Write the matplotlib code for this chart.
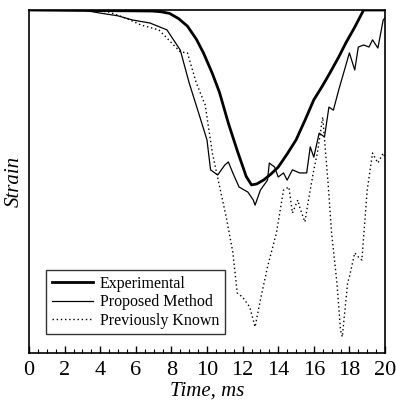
import numpy as np
import matplotlib.pyplot as plt

plt.rcParams['font.family'] = 'serif'
plt.rcParams['font.serif'] = ['Liberation Serif', 'DejaVu Serif']

# Experimental strain (arbitrary units, 100 = zero strain at top)
t_exp = [0, 6.9, 7.4, 7.9, 8.4, 8.9, 9.4, 9.8, 10.3, 10.7, 11.2, 11.7, 12.2,
         12.5, 12.8, 13.2, 13.6, 14.0, 14.5, 15.0, 15.5, 16.0, 16.5, 16.9,
         17.4, 17.8, 18.3, 18.8, 20.0]
s_exp = [100, 99.7, 99.5, 99.0, 97.5, 95.3, 91.5, 87.5, 81.5, 76.0, 67.0, 59.0, 51.5,
         49.0, 49.3, 50.5, 52.2, 54.2, 58.0, 62.1, 67.8, 73.8, 78.0, 81.6,
         86.3, 90.4, 95.0, 100, 100]

# Proposed method
t_prop = [0, 3.0, 4.0, 5.0, 5.8, 6.8, 7.75, 8.5, 9.0, 9.6, 10.0, 10.2, 10.6,
          11.0, 11.2, 11.45, 11.8, 12.3, 12.6, 12.7, 13.0, 13.4, 13.5, 13.8,
          14.0, 14.3, 14.5, 14.8, 15.2, 15.6, 15.8, 16.0, 16.3, 16.6, 16.85,
          17.1, 17.4, 18.0, 18.3, 18.5, 18.8, 19.1, 19.3, 19.6, 19.9, 20.0]
s_prop = [100, 100, 99.1, 98.3, 97.1, 96.2, 94.2, 88.3, 78.7, 68.8, 62.1, 53.4, 51.9,
          54.8, 55.7, 52.5, 48.4, 46.9, 44.6, 43.1, 47.5, 50.4, 55.4, 54.2,
          51.3, 52.5, 50.4, 53.4, 52.5, 52.5, 60.1, 57.1, 64.1, 63.0, 71.7,
          70.8, 76.7, 87.5, 82.5, 89.2, 89.8, 89.2, 91.3, 88.9, 97.1, 97.7]

# Previously known method
t_prev = [0, 3.5, 4.5, 5.5, 6.3, 7.3, 8.5, 8.9, 9.4, 9.9, 10.3, 10.7, 11.1,
          11.45, 11.7, 12.0, 12.4, 12.7, 13.0, 13.4, 13.9, 14.3, 14.6, 14.8,
          15.1, 15.2, 15.5, 15.7, 16.0, 16.2, 16.5, 16.8, 17.0, 17.3, 17.5,
          17.6, 17.9, 18.0, 18.3, 18.5, 18.7, 19.0, 19.3, 19.6, 19.9, 20.0]
s_prev = [100, 100, 99.4, 97.5, 95.6, 94.2, 87.8, 87.5, 78.7, 72.3, 58.3, 48.7, 39.1,
          29.4, 17.5, 16.3, 13.4, 7.6, 15.5, 25.1, 35.0, 47.5, 48.4, 40.8,
          44.6, 42.6, 38.2, 44.6, 53.4, 58.3, 68.8, 49.6, 35.0, 20.4, 6.7,
          4.7, 20.4, 22.2, 29.2, 28.0, 27.1, 47.5, 58.3, 55.4, 58.3, 57.1]

fig = plt.figure(figsize=(3.96, 4.05), dpi=100)
ax = fig.add_axes([29 / 396, 52 / 405, 356 / 396, 343 / 405])

ax.plot(t_exp, s_exp, color='black', lw=2.0, label='Experimental')
ax.plot(t_prop, s_prop, color='black', lw=0.9, label='Proposed Method')
ax.plot(t_prev, s_prev, color='black', lw=1.0, ls=(0, (1, 2)), label='Previously Known')

ax.set_xlim(0, 20)
ax.set_ylim(0, 100)
ax.set_xticks(np.arange(0, 21, 2))
ax.set_xticks(np.arange(0, 20.1, 0.5), minor=True)
ax.set_yticks([])
ax.tick_params(axis='x', which='major', direction='in', length=5, width=1,
               labelsize=16, pad=6)
ax.tick_params(axis='x', which='minor', direction='in', length=3, width=0.8)
for sp in ax.spines.values():
    sp.set_linewidth(1.2)

ax.set_xlabel('Time, ms', fontsize=15, style='italic', labelpad=1)
ax.set_ylabel('Strain', fontsize=15, style='italic', labelpad=4)

leg = ax.legend(loc='lower left', bbox_to_anchor=(0.048, 0.055), borderaxespad=0,
                fontsize=11.5, frameon=True, fancybox=False, handlelength=2.6,
                labelspacing=0.15, borderpad=0.35, handletextpad=0.4)
leg.get_frame().set_edgecolor('black')
leg.get_frame().set_linewidth(1.0)

fig.savefig('out.png', dpi=100)
